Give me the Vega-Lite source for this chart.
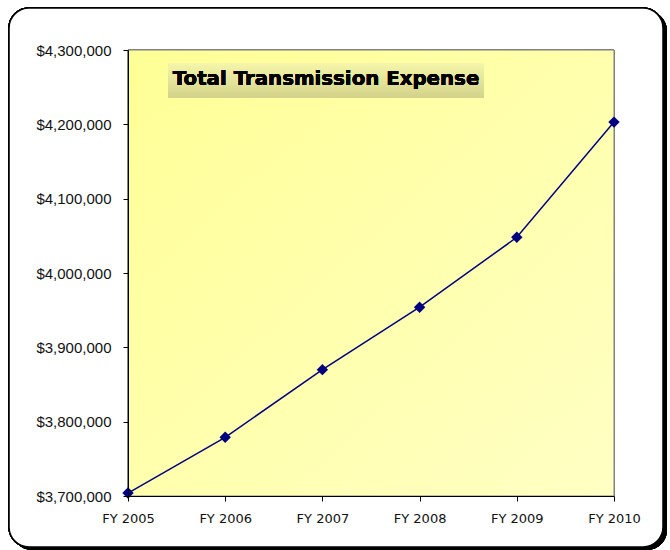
{
  "$schema": "https://vega.github.io/schema/vega-lite/v6.json",
  "width": 486,
  "height": 446,
  "autosize": {"type": "none"},
  "padding": {"left": 128, "top": 50, "right": 56, "bottom": 54},
  "background": "white",
  "config": {
    "view": {"stroke": null},
    "axis": {"domainColor": "black", "domainWidth": 1, "tickColor": "black", "tickSize": 5, "grid": false, "labelColor": "#111111", "title": null},
    "axisX": {"labelFont": "DejaVu Sans", "labelFontSize": 13, "labelPadding": 11, "labelFlush": false},
    "axisY": {"labelFont": "Liberation Sans", "labelFontSize": 15, "labelPadding": 12}
  },
  "datasets": {
    "pts": [
      {"fy": 2005, "expense": 3704000},
      {"fy": 2006, "expense": 3779000},
      {"fy": 2007, "expense": 3870000},
      {"fy": 2008, "expense": 3954000},
      {"fy": 2009, "expense": 4048000},
      {"fy": 2010, "expense": 4203000}
    ]
  },
  "data": {"name": "pts"},
  "layer": [
    {
      "mark": {"type": "rect", "fill": "black", "cornerRadius": 20, "clip": false},
      "encoding": {
        "x": {"datum": 2003.807, "type": "quantitative", "scale": {"domain": [2005, 2010], "nice": false, "zero": false}},
        "x2": {"datum": 2010.545},
        "y": {"datum": 4352466, "type": "quantitative", "scale": {"domain": [3700000, 4300000], "nice": false, "zero": false}},
        "y2": {"datum": 3627354}
      }
    },
    {
      "mark": {"type": "rect", "fill": "white", "stroke": "black", "strokeWidth": 1.5, "cornerRadius": 20, "clip": false},
      "encoding": {
        "x": {"datum": 2003.776, "type": "quantitative"},
        "x2": {"datum": 2010.504},
        "y": {"datum": 4356502, "type": "quantitative"},
        "y2": {"datum": 3631390}
      }
    },
    {
      "mark": {"type": "rect", "stroke": "#808080", "strokeWidth": 1,
        "fill": {"gradient": "linear", "x1": 0, "y1": 0, "x2": 1, "y2": 1, "stops": [{"offset": 0, "color": "#FFFF96"}, {"offset": 1, "color": "#FFFFC4"}]}},
      "encoding": {
        "x": {"datum": 2005, "type": "quantitative"},
        "x2": {"datum": 2010},
        "y": {"datum": 4300000, "type": "quantitative"},
        "y2": {"datum": 3700000}
      }
    },
    {
      "mark": {"type": "rect",
        "fill": {"gradient": "linear", "x1": 0, "y1": 0, "x2": 0, "y2": 1, "stops": [{"offset": 0, "color": "#F6F6AA"}, {"offset": 1, "color": "#D2D28A"}]}},
      "encoding": {
        "x": {"datum": 2005.4115, "type": "quantitative"},
        "x2": {"datum": 2008.6626},
        "y": {"datum": 4282511, "type": "quantitative"},
        "y2": {"datum": 4235426}
      }
    },
    {
      "mark": {"type": "text", "text": "Total Transmission Expense", "font": "DejaVu Sans", "fontWeight": "bold", "fontSize": 19.8, "color": "black", "align": "center", "baseline": "alphabetic"},
      "encoding": {
        "x": {"datum": 2007.037, "type": "quantitative"},
        "y": {"datum": 4252915, "type": "quantitative"}
      }
    },
    {
      "mark": {"type": "line", "color": "#000080", "strokeWidth": 1.5},
      "encoding": {
        "x": {"field": "fy", "type": "quantitative",
          "axis": {"zindex": 2, "title": null, "values": [2005, 2006, 2007, 2008, 2009, 2010], "labelExpr": "'FY ' + datum.value"}},
        "y": {"field": "expense", "type": "quantitative",
          "axis": {"zindex": 2, "title": null, "values": [3700000, 3800000, 3900000, 4000000, 4100000, 4200000, 4300000], "format": "$,.0f"}}
      }
    },
    {
      "mark": {"type": "point", "shape": "diamond", "filled": true, "color": "#000080", "size": 130, "opacity": 1},
      "encoding": {
        "x": {"field": "fy", "type": "quantitative"},
        "y": {"field": "expense", "type": "quantitative"}
      }
    }
  ]
}
